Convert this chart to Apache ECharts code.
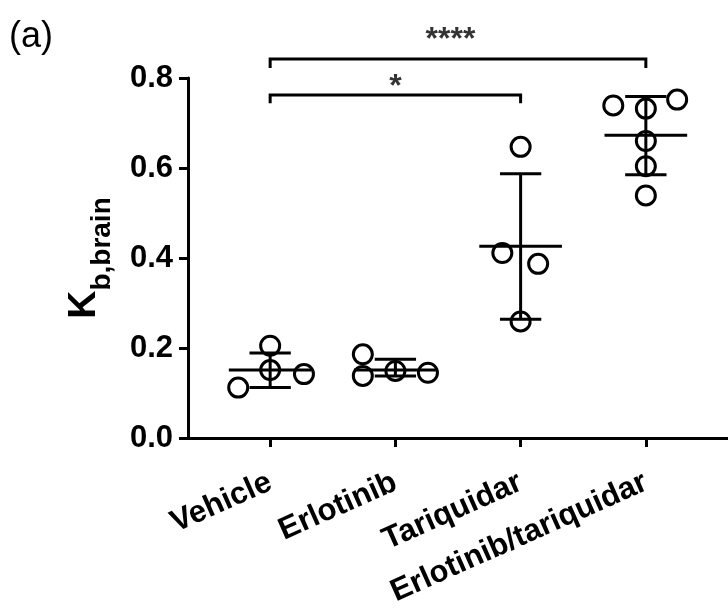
<!DOCTYPE html>
<html>
<head>
<meta charset="utf-8">
<script src="https://cdn.jsdelivr.net/npm/echarts@6/dist/echarts.min.js"></script>
<style>
  html, body { margin: 0; padding: 0; background: #fff; }
  #chart_container { width: 728px; height: 610px; }
</style>
</head>
<body>
<div id="chart_container"></div>
<script>
const categories = ['Vehicle', 'Erlotinib', 'Tariquidar', 'Erlotinib/tariquidar'];

// individual animals, [x position (with jitter), Kb,brain]
const vehicle_pts    = [[1, 0.205], [1, 0.151], [0.745, 0.112], [1.27, 0.142]];
const erlotinib_pts  = [[1.74, 0.186], [1.74, 0.138], [2, 0.149], [2.26, 0.145]];
const tariquidar_pts = [[3, 0.647], [2.854, 0.411], [3.14, 0.387], [3, 0.259]];
const combo_pts      = [[3.74, 0.739], [4, 0.732], [4.25, 0.752], [4, 0.660], [4, 0.604], [4, 0.539]];

// mean and SD range per group
const means   = [0.151, 0.151, 0.426, 0.673];
const sd_low  = [0.112, 0.138, 0.264, 0.585];
const sd_high = [0.189, 0.175, 0.587, 0.759];

// significance brackets: [from group, to group, bar level, drop level]
const brackets = [
    [1, 4, 0.842, 0.822],
    [1, 3, 0.762, 0.744]
];
const star_text = ['****', '*'];
const star_pos = [[2.44, 0.885], [2.0, 0.78]];

document.addEventListener("DOMContentLoaded", function () {
    let chart = echarts.init(document.getElementById('chart_container'));

    let all_pts = vehicle_pts.concat(erlotinib_pts, tariquidar_pts, combo_pts);

    let err_data = means.map((m, i) => [i + 1, m, sd_low[i], sd_high[i]]);

    let bracket_series = brackets.map(b => ({
        type: 'line',
        clip: false,
        silent: true,
        symbol: 'none',
        lineStyle: { color: '#000', width: 3, join: 'miter', cap: 'butt' },
        data: [[b[0], b[3]], [b[0], b[2]], [b[1], b[2]], [b[1], b[3]]]
    }));

    let star_data = star_pos.map((p, i) => ({
        value: p,
        label: { formatter: star_text[i] }
    }));

    const font = 'Liberation Sans, Arial, sans-serif';

    let option = {
        animation: false,
        grid: { left: 188, right: 0, top: 78, bottom: 172 },
        graphic: [
            { type: 'text', left: 9, top: 19,
              style: { text: '(a)', font: '36px ' + font, fill: '#000' } }
        ],
        xAxis: {
            type: 'value',
            min: 0.344,
            max: 4.656,
            splitLine: { show: false },
            axisLine: { lineStyle: { color: '#000', width: 3 } },
            axisTick: { show: true, customValues: [1, 2, 3, 4], length: 9,
                        lineStyle: { color: '#000', width: 3 } },
            axisLabel: {
                customValues: [1, 2, 3, 4],
                formatter: v => categories[Math.round(v) - 1] || '',
                rotate: 24,
                margin: 43,
                color: '#000',
                fontSize: 31,
                fontWeight: 'bold',
                fontFamily: font
            }
        },
        yAxis: {
            type: 'value',
            min: 0,
            max: 0.8,
            interval: 0.2,
            splitLine: { show: false },
            axisLine: { show: true, lineStyle: { color: '#000', width: 3 } },
            axisTick: { show: true, length: 9, lineStyle: { color: '#000', width: 3 } },
            axisLabel: {
                formatter: v => v.toFixed(1),
                margin: 15,
                color: '#000',
                fontSize: 31,
                fontWeight: 'bold',
                fontFamily: font
            },
            name: '{k|K}{s|b,brain}',
            nameLocation: 'middle',
            nameRotate: 90,
            nameGap: 84,
            nameTextStyle: {
                rich: {
                    k: { fontSize: 39, fontWeight: 'bold', fontFamily: font, color: '#000',
                         verticalAlign: 'bottom' },
                    s: { fontSize: 28, fontWeight: 'bold', fontFamily: font, color: '#000',
                         verticalAlign: 'bottom', padding: [0, 0, -12, 0] }
                }
            }
        },
        series: [
            {
                name: 'mean_sd',
                type: 'custom',
                silent: true,
                data: err_data,
                renderItem: function (params, api) {
                    let x = api.value(0);
                    let mid = api.coord([x, api.value(1)]);
                    let lo = api.coord([x, api.value(2)]);
                    let hi = api.coord([x, api.value(3)]);
                    let halfMean = api.size([0.33, 0])[0];
                    let halfCap = api.size([0.165, 0])[0];
                    let st = { stroke: '#000', lineWidth: 3 };
                    return {
                        type: 'group',
                        children: [
                            { type: 'line', shape: { x1: mid[0], y1: hi[1], x2: mid[0], y2: lo[1] }, style: st },
                            { type: 'line', shape: { x1: mid[0] - halfCap, y1: hi[1], x2: mid[0] + halfCap, y2: hi[1] }, style: st },
                            { type: 'line', shape: { x1: mid[0] - halfCap, y1: lo[1], x2: mid[0] + halfCap, y2: lo[1] }, style: st },
                            { type: 'line', shape: { x1: mid[0] - halfMean, y1: mid[1], x2: mid[0] + halfMean, y2: mid[1] }, style: st }
                        ]
                    };
                }
            },
            {
                name: 'points',
                type: 'scatter',
                symbol: 'circle',
                symbolSize: 19,
                itemStyle: { color: 'rgba(0,0,0,0)', borderColor: '#000', borderWidth: 3, opacity: 1 },
                data: all_pts
            },
            ...bracket_series,
            {
                name: 'stars',
                type: 'scatter',
                clip: false,
                silent: true,
                symbolSize: 0,
                label: {
                    show: true,
                    position: 'inside',
                    color: '#000',
                    fontSize: 32,
                    fontWeight: 'bold',
                    fontFamily: font
                },
                data: star_data
            }
        ]
    };

    chart.setOption(option);
});
</script>
</body>
</html>
